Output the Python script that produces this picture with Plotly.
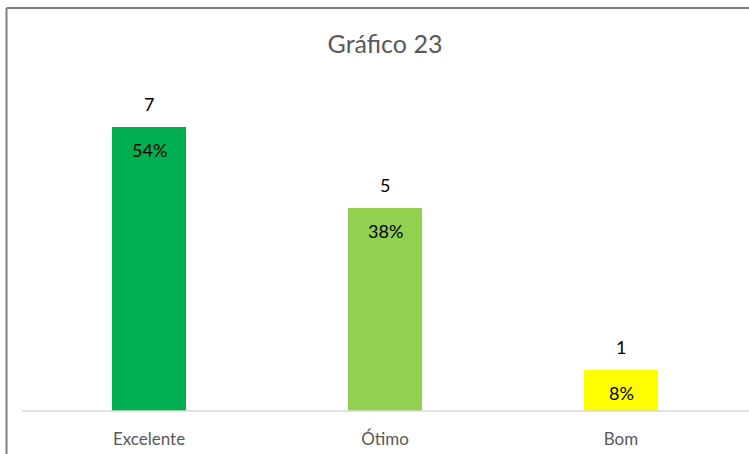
import plotly.graph_objects as go

categories = ["Excelente", "Ótimo", "Bom"]
counts = [7, 5, 1]
percents = ["54%", "38%", "8%"]
colors = ["#00B050", "#92D050", "#FFFF00"]

W, H = 749, 454
ml, mr, mt, mb = 31, 10, 86, 43
pw, ph = W - ml - mr, H - mt - mb

fig = go.Figure(go.Bar(x=categories, y=counts, marker=dict(color=colors, line=dict(width=0)),
                       width=0.314, hoverinfo="skip"))

ann = []
for c, v, p in zip(categories, counts, percents):
    ann.append(dict(x=c, y=v, text=str(v), showarrow=False, yshift=23,
                    font=dict(size=18, color="#000000", family="Lato")))
    ann.append(dict(x=c, y=v, text=p, showarrow=False, yshift=-23,
                    font=dict(size=18, color="#000000", family="Lato")))
fig.update_layout(annotations=ann)

def px_x(p):
    return (p - ml) / pw

# baseline line
fig.add_shape(type="line", xref="paper", yref="paper", x0=px_x(22), x1=px_x(760), y0=0, y1=0,
              line=dict(color="#D9D9D9", width=1.5))
# chart border (top and left edges), in pixel offsets from plot-area corners
fig.add_shape(type="line", xref="paper", yref="paper", xsizemode="pixel", ysizemode="pixel",
              xanchor=0, yanchor=1, x0=6.5 - ml, x1=760 - ml, y0=mt - 8, y1=mt - 8,
              line=dict(color="#7F7F7F", width=2))
fig.add_shape(type="line", xref="paper", yref="paper", xsizemode="pixel", ysizemode="pixel",
              xanchor=0, yanchor=1, x0=6.5 - ml, x1=6.5 - ml, y0=mt - 8, y1=mt - 470,
              line=dict(color="#7F7F7F", width=2))

fig.update_layout(
    width=W, height=H,
    margin=dict(l=ml, r=mr, t=mt, b=mb, autoexpand=False),
    paper_bgcolor="white", plot_bgcolor="white",
    title=dict(text="Gráfico 23", x=385 / W, xanchor="center",
               y=1 - 44 / H, yanchor="middle",
               font=dict(size=25, color="#595959", family="Lato")),
    xaxis=dict(showline=False, showgrid=False, ticks="", ticklabelstandoff=16, automargin=False,
               tickfont=dict(size=17, color="#595959", family="Lato"),
               range=[-0.5, 2.5]),
    yaxis=dict(visible=False, range=[0, 8.01], automargin=False),
    showlegend=False,
    bargap=0,
)

js = ("document.documentElement.style.margin='0';document.body.style.margin='0';"
      "document.body.style.overflow='hidden';window.scrollTo(0,0);")
fig.write_html("out.html", post_script=js, config={"displayModeBar": False})
